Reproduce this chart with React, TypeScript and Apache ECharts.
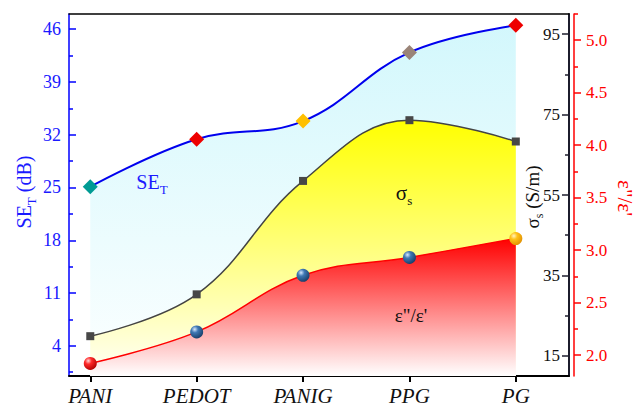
import React, { useEffect, useRef } from "react";
import * as echarts from "echarts";

const categories = ["PANI", "PEDOT", "PANIG", "PPG", "PG"];
const seT = [25.1, 31.4, 33.8, 42.9, 46.5];
const sigmaS = [19.9, 30.3, 58.5, 73.6, 68.3];
const epsRatio = [1.92, 2.22, 2.76, 2.93, 3.11];

const seTicks = [4, 11, 18, 25, 32, 39, 46];
const seMinorTicks = [0.5, 7.5, 14.5, 21.5, 28.5, 35.5, 42.5];
const sigmaTicks = [15, 35, 55, 75, 95];
const sigmaMinorTicks = [25, 45, 65, 85];
const epsTicks = [2.0, 2.5, 3.0, 3.5, 4.0, 4.5, 5.0];
const epsMinorTicks = [2.25, 2.75, 3.25, 3.75, 4.25, 4.75, 5.25];
const xTicks = [0, 1, 2, 3, 4];

const diamondColors = ["#009b94", "#ee0000", "#ffc000", "#9a8478", "#ee0000"];
const ballKinds = ["red", "blue", "blue", "blue", "orange"];

const FONT = "Liberation Serif";

function ball(kind: string) {
  const stops: Record<string, string[]> = {
    red: ["#ffd6d6", "#ff2a2a", "#b00000"],
    blue: ["#d6e8ff", "#3f78b4", "#173c66"],
    orange: ["#fff4c0", "#ffc21a", "#e08f00"],
  };
  const s = stops[kind];
  return new echarts.graphic.RadialGradient(0.35, 0.3, 0.75, [
    { offset: 0, color: s[0] },
    { offset: 0.35, color: s[1] },
    { offset: 1, color: s[2] },
  ]);
}

export default function App() {
  const ref = useRef<HTMLDivElement>(null);
  useEffect(() => {
    document.body.style.margin = "0";
    const chart = echarts.init(ref.current!, null, { renderer: "svg" });
    const option: any = {
      animation: false,
      backgroundColor: "#ffffff",
      textStyle: { fontFamily: FONT },
      grid: { left: 69, right: 67, top: 14, bottom: 30 },
      xAxis: [
        {
          type: "value",
          min: -0.2,
          max: 4.5,
          position: "bottom",
          splitLine: { show: false },
          axisLine: { show: true, onZero: false, lineStyle: { color: "#000", width: 2 } },
          axisTick: { show: true, inside: false, length: 6, customValues: xTicks, lineStyle: { color: "#000", width: 2 } },
          axisLabel: {
            customValues: xTicks,
            formatter: (v: number) => categories[Math.round(v)] || "",
            fontFamily: FONT,
            fontStyle: "italic",
            fontSize: 21,
            color: "#111",
            margin: 9,
          },
        },
        {
          type: "value",
          min: -0.2,
          max: 4.5,
          position: "top",
          splitLine: { show: false },
          axisLine: { show: true, onZero: false, lineStyle: { color: "#000", width: 1.5 } },
          axisTick: { show: false },
          axisLabel: { show: false },
        },
      ],
      yAxis: [
        {
          type: "value",
          min: 0,
          max: 48,
          position: "left",
          splitLine: { show: false },
          axisLine: { show: true, onZero: false, lineStyle: { color: "#0000ff", width: 1.5 } },
          axisTick: { show: true, inside: true, length: 7, customValues: seTicks, lineStyle: { color: "#0000ff", width: 1.5 } },
          axisLabel: { customValues: seTicks, fontFamily: FONT, fontSize: 18, color: "#1a1aff", margin: 8 },
        },
        {
          type: "value",
          min: 0,
          max: 48,
          position: "left",
          splitLine: { show: false },
          axisLine: { show: false, onZero: false },
          axisTick: { show: true, inside: true, length: 4, customValues: seMinorTicks, lineStyle: { color: "#0000ff", width: 1.5 } },
          axisLabel: { show: false },
        },
        {
          type: "value",
          min: 10,
          max: 100,
          position: "right",
          splitLine: { show: false },
          axisLine: { show: true, onZero: false, lineStyle: { color: "#1c1c2c", width: 2 } },
          axisTick: { show: true, inside: true, length: 7, customValues: sigmaTicks, lineStyle: { color: "#1c1c2c", width: 1.5 } },
          axisLabel: { inside: true, customValues: sigmaTicks, fontFamily: FONT, fontSize: 17, color: "#111", margin: 9 },
        },
        {
          type: "value",
          min: 10,
          max: 100,
          position: "right",
          splitLine: { show: false },
          axisLine: { show: false, onZero: false },
          axisTick: { show: true, inside: true, length: 4, customValues: sigmaMinorTicks, lineStyle: { color: "#1c1c2c", width: 1.5 } },
          axisLabel: { show: false },
        },
        {
          type: "value",
          min: 1.8,
          max: 5.25,
          position: "right",
          offset: 5,
          splitLine: { show: false },
          axisLine: { show: true, onZero: false, lineStyle: { color: "#ff0000", width: 1.5 } },
          axisTick: { show: true, inside: false, length: 7, customValues: epsTicks, lineStyle: { color: "#ff0000", width: 1.5 } },
          axisLabel: {
            customValues: epsTicks,
            formatter: (v: number) => v.toFixed(1),
            fontFamily: FONT,
            fontSize: 17,
            color: "#ff0000",
            margin: 12,
          },
        },
        {
          type: "value",
          min: 1.8,
          max: 5.25,
          position: "right",
          offset: 5,
          splitLine: { show: false },
          axisLine: { show: false, onZero: false },
          axisTick: { show: true, inside: false, length: 4, customValues: epsMinorTicks, lineStyle: { color: "#ff0000", width: 1.5 } },
          axisLabel: { show: false },
        },
      ],
      series: [
        {
          type: "line",
          xAxisIndex: 0,
          yAxisIndex: 0,
          smooth: 0.4,
          symbol: "diamond",
          symbolSize: 15,
          lineStyle: { color: "#0000ee", width: 2 },
          areaStyle: {
            color: new echarts.graphic.LinearGradient(0, 0, 0, 1, [
              { offset: 0, color: "#c0f4fb" },
              { offset: 1, color: "#fbffff" },
            ]),
          },
          data: seT.map((v, i) => ({ value: [i, v], itemStyle: { color: diamondColors[i] } })),
        },
        {
          type: "line",
          xAxisIndex: 0,
          yAxisIndex: 2,
          smooth: 0.4,
          symbol: "rect",
          symbolSize: 8,
          itemStyle: { color: "#474747" },
          lineStyle: { color: "#444444", width: 1.5 },
          areaStyle: {
            opacity: 1,
            color: new echarts.graphic.LinearGradient(0, 0, 0, 1, [
              { offset: 0, color: "#ffff00" },
              { offset: 0.45, color: "#ffff70" },
              { offset: 1, color: "#fffff8" },
            ]),
          },
          data: sigmaS.map((v, i) => [i, v]),
        },
        {
          type: "line",
          xAxisIndex: 0,
          yAxisIndex: 4,
          smooth: 0.4,
          symbol: "circle",
          symbolSize: 13,
          lineStyle: { color: "#ff0000", width: 1.5 },
          areaStyle: {
            opacity: 1,
            color: new echarts.graphic.LinearGradient(0, 0, 0, 1, [
              { offset: 0, color: "#ff0000" },
              { offset: 1, color: "#ffffff" },
            ]),
          },
          data: epsRatio.map((v, i) => ({ value: [i, v], itemStyle: { color: ball(ballKinds[i]) } })),
        },
      ],
      graphic: [
        {
          type: "text",
          x: 24,
          y: 192,
          z: 100,
          rotation: Math.PI / 2,
          style: {
            text: "SE{sub|T} (dB)",
            align: "center",
            verticalAlign: "middle",
            fill: "#1a1aff",
            fontFamily: FONT,
            fontSize: 20,
            lineHeight: 28,
            rich: {
              sub: { fontFamily: FONT, fontSize: 13, lineHeight: 13, verticalAlign: "bottom", fill: "#1a1aff" },
            },
          },
        },
        {
          type: "text",
          x: 532,
          y: 197,
          z: 100,
          rotation: Math.PI / 2,
          style: {
            text: "σ{sub|s} (S/m)",
            align: "center",
            verticalAlign: "middle",
            fill: "#111",
            fontFamily: FONT,
            fontSize: 19,
            lineHeight: 26,
            rich: {
              sub: { fontFamily: FONT, fontSize: 12, lineHeight: 12, verticalAlign: "bottom", fill: "#111" },
            },
          },
        },
        {
          type: "text",
          x: 625,
          y: 198,
          z: 100,
          rotation: -Math.PI / 2,
          style: {
            text: "ε\"/ε'",
            align: "center",
            verticalAlign: "middle",
            fill: "#ff0000",
            fontFamily: FONT,
            fontSize: 21,
          },
        },
        {
          type: "text",
          x: 152,
          y: 182,
          z: 100,
          style: {
            text: "SE{sub|T}",
            align: "center",
            verticalAlign: "middle",
            fill: "#1a1aff",
            fontFamily: FONT,
            fontSize: 20,
            lineHeight: 28,
            rich: {
              sub: { fontFamily: FONT, fontSize: 13, lineHeight: 13, verticalAlign: "bottom", fill: "#1a1aff" },
            },
          },
        },
        {
          type: "text",
          x: 404,
          y: 193,
          z: 100,
          style: {
            text: "σ{sub|s}",
            align: "center",
            verticalAlign: "middle",
            fill: "#111",
            fontFamily: FONT,
            fontSize: 21,
            lineHeight: 28,
            rich: {
              sub: { fontFamily: FONT, fontSize: 13, lineHeight: 13, verticalAlign: "bottom", fill: "#111" },
            },
          },
        },
        {
          type: "text",
          x: 411,
          y: 315,
          z: 100,
          style: {
            text: "ε\"/ε'",
            align: "center",
            verticalAlign: "middle",
            fill: "#111",
            fontFamily: FONT,
            fontSize: 19,
          },
        },
      ],
    };
    chart.setOption(option);
    return () => chart.dispose();
  }, []);
  return <div ref={ref} style={{ position: "fixed", left: 0, top: 0, width: 636, height: 406 }} />;
}
